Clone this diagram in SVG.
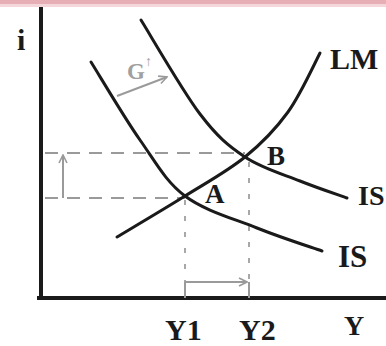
<svg xmlns="http://www.w3.org/2000/svg" width="386" height="346" viewBox="0 0 386 346">
<defs>
<style>
.curve{fill:none;stroke:#1a1a1a;stroke-width:3;stroke-linecap:round}
.axis{fill:none;stroke:#1a1a1a;stroke-width:4}
.dash{fill:none;stroke:#9a9a9a;stroke-width:2;stroke-dasharray:13 9}
.dot{fill:none;stroke:#a8a8a8;stroke-width:2;stroke-dasharray:5 11}
.guide{fill:none;stroke:#9a9a9a;stroke-width:2}
.lbl{font-family:"Liberation Serif",serif;font-weight:bold;fill:#1a1a1a}
</style>
<marker id="open" viewBox="0 0 10 10" refX="9" refY="5" markerWidth="10" markerHeight="10" markerUnits="userSpaceOnUse" orient="auto">
<path d="M1,1 L9,5 L1,9" fill="none" stroke="#9a9a9a" stroke-width="1.6"/>
</marker>
</defs>
<rect x="0" y="0" width="386" height="346" fill="#ffffff"/>
<rect x="0" y="0" width="386" height="4" fill="#e7aeb5"/>
<rect x="0" y="4" width="386" height="3" fill="#f4d7da"/>
<g id="axes">
<line class="axis" x1="41" y1="7" x2="41" y2="300"/>
<line class="axis" x1="37" y1="298" x2="386" y2="298"/>
</g>
<g id="connectors">
<line class="dash" x1="45" y1="153" x2="245" y2="153"/>
<line class="dash" x1="45" y1="198" x2="185" y2="198"/>
<line class="dot" x1="185" y1="200" x2="185" y2="282"/>
<line class="dot" x1="249" y1="162" x2="249" y2="282"/>
<line class="guide" x1="185" y1="282" x2="185" y2="298"/>
<line class="guide" x1="249" y1="282" x2="249" y2="298"/>
<line class="guide" x1="185" y1="282" x2="247" y2="282" marker-end="url(#open)"/>
<line class="guide" x1="63" y1="198" x2="63" y2="155" marker-end="url(#open)"/>
<line class="guide" x1="117" y1="96" x2="167" y2="77" marker-end="url(#open)"/>
</g>
<g id="IS1">
<path class="curve" d="M91,62 C99.2,75 124.3,117.7 140,140 C155.7,162.3 165.5,181.3 185,196 C204.5,210.7 234.2,218.8 257,228 C279.8,237.2 311.2,247.2 322,251"/>
<text class="lbl" x="338" y="267" font-size="31">IS</text>
</g>
<g id="IS2">
<path class="curve" d="M141,20 C150.8,35.7 182.7,91.2 200,114 C217.3,136.8 228.3,145.8 245,157 C261.7,168.2 283,174.2 300,181 C317,187.8 339.2,195.2 347,198"/>
<text class="lbl" x="358" y="205" font-size="28">IS</text>
</g>
<g id="LM">
<path class="curve" d="M117,237 C128.3,230.2 163.7,209.3 185,196 C206.3,182.7 227.8,171 245,157 C262.2,143 275.5,129.3 288,112 C300.5,94.7 314.7,63.2 320,53"/>
<text class="lbl" x="330" y="69" font-size="30">LM</text>
</g>
<g id="A"><text class="lbl" x="205" y="203" font-size="27">A</text></g>
<g id="B"><text class="lbl" x="267" y="165" font-size="27">B</text></g>
<g id="G"><text class="lbl" x="127" y="79" font-size="23" style="fill:#a0a0a0">G</text><text x="145" y="66" font-family="Liberation Serif,serif" font-size="14" fill="#a0a0a0">↑</text></g>
<g id="labels">
<text class="lbl" x="17" y="50" font-size="30">i</text>
<text class="lbl" x="165" y="340" font-size="30">Y1</text>
<text class="lbl" x="239" y="340" font-size="30">Y2</text>
<text class="lbl" x="344" y="335" font-size="28">Y</text>
</g>
</svg>
